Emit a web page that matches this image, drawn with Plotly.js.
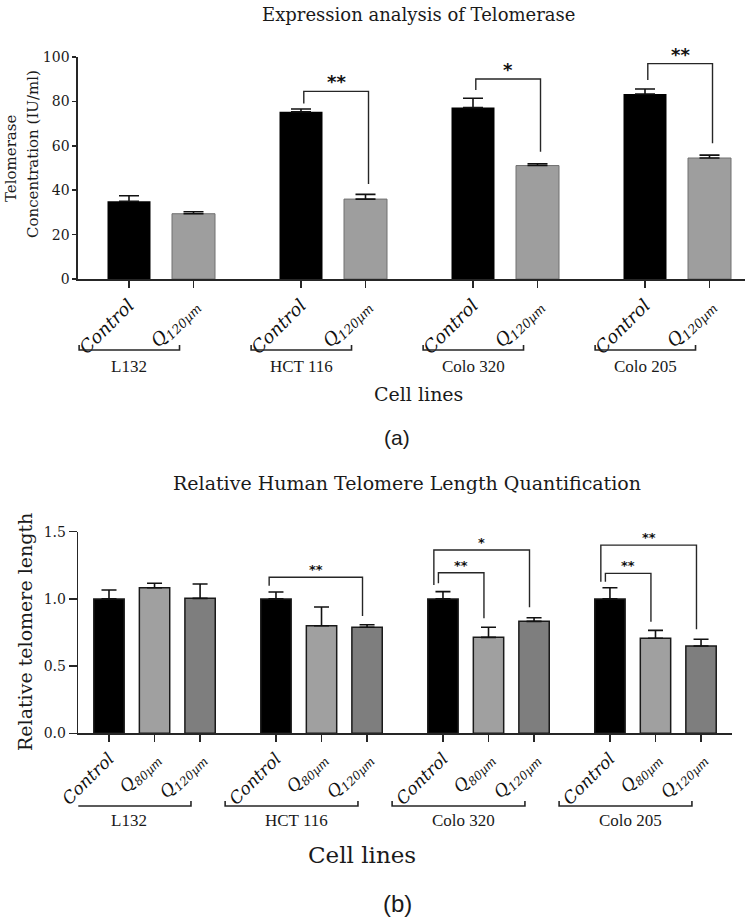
<!DOCTYPE html>
<html>
<head>
<meta charset="utf-8">
<script src="https://cdn.plot.ly/plotly-3.0.1.min.js"></script>
<style>html,body{margin:0;padding:0;background:#fff;}#chart{width:749px;height:920px;}</style>
</head>
<body>
<div id="chart"></div>
<script>
// ---------- data ----------
const groups = ['L132', 'HCT 116', 'Colo 320', 'Colo 205'];

// (a) Telomerase concentration (IU/ml)
const topTickText = ['Control', 'Q<sub>120µm</sub>'];
const topControl = [35.0, 75.3, 77.2, 83.3];
const topControlErr = [2.5, 1.3, 4.2, 2.3];
const topQ120 = [29.4, 36.0, 51.1, 54.5];
const topQ120Err = [0.9, 2.1, 0.8, 1.3];
const topSigGroup = [1, 2, 3];
const topSigLabel = ['**', '*', '**'];
const topSigY = [84.5, 90.1, 97.0];
const topSigLeftEnd = [79.1, 85.1, 89.6];
const topSigRightEnd = [42.8, 57.3, 61.1];

// (b) Relative telomere length
const botTickText = ['Control', 'Q<sub>80µm</sub>', 'Q<sub>120µm</sub>'];
const botControl = [1.0, 1.0, 1.0, 1.0];
const botControlErr = [0.066, 0.051, 0.054, 0.083];
const botQ80 = [1.083, 0.80, 0.714, 0.707];
const botQ80Err = [0.033, 0.14, 0.075, 0.059];
const botQ120 = [1.004, 0.789, 0.833, 0.65];
const botQ120Err = [0.107, 0.019, 0.027, 0.05];
const botSigGroup = [1, 2, 2, 3, 3];
const botSigTo = [2, 1, 2, 1, 2];
const botSigLabel = ['**', '**', '*', '**', '**'];
const botSigY = [1.161, 1.195, 1.364, 1.19, 1.40];
const botSigLeftEnd = [1.098, 1.116, 1.103, 1.128, 1.128];
const botSigRightEnd = [0.873, 0.856, 0.9375, 0.83, 0.774];

// ---------- layout helpers ----------
const W = 749, H = 920;
const px = p => p / W;
const py = p => 1 - p / H;
const topStep = 8, botStep = 11;      // group spacing in axis units
const topGap = 3, botGap = 3;         // bar spacing inside group
const zeros = a => a.map(() => 0);

const topX = (g, i) => g * topStep + i * topGap;
const botX = (g, i) => g * botStep + i * botGap;

const ink = '#262626';
const traces = [];
function bar(xs, ys, errs, color, lineColor, lineW, xa, ya, capW) {
  return {
    type: 'bar', x: xs, y: ys, width: 2, xaxis: xa, yaxis: ya,
    marker: {color: color, line: {color: lineColor, width: lineW}},
    error_y: {type: 'data', array: errs, arrayminus: zeros(errs), symmetric: false,
              color: '#111', thickness: 1.6, width: capW},
    hoverinfo: 'skip', showlegend: false
  };
}
traces.push(bar(groups.map((g, k) => topX(k, 0)), topControl, topControlErr, '#000000', '#000000', 0, 'x', 'y', 10));
traces.push(bar(groups.map((g, k) => topX(k, 1)), topQ120, topQ120Err, '#9e9e9e', '#707070', 1, 'x', 'y', 10));
traces.push(bar(groups.map((g, k) => botX(k, 0)), botControl, botControlErr, '#000000', '#1a1a1a', 1.5, 'x2', 'y2', 7.5));
traces.push(bar(groups.map((g, k) => botX(k, 1)), botQ80, botQ80Err, '#a0a0a0', '#1a1a1a', 1.5, 'x2', 'y2', 7.5));
traces.push(bar(groups.map((g, k) => botX(k, 2)), botQ120, botQ120Err, '#7e7e7e', '#1a1a1a', 1.5, 'x2', 'y2', 7.5));

const topTickVals = [], topTickLabels = [];
groups.forEach((g, k) => topTickText.forEach((t, i) => { topTickVals.push(topX(k, i)); topTickLabels.push(t); }));
const botTickVals = [], botTickLabels = [];
groups.forEach((g, k) => botTickText.forEach((t, i) => { botTickVals.push(botX(k, i)); botTickLabels.push(t); }));

const shapes = [], annotations = [];
const line = {color: ink, width: 1.4};

// significance brackets (a)
topSigGroup.forEach((g, j) => {
  const x1 = topX(g, 0) + 0.13, x2 = topX(g, 1) + 0.14;
  shapes.push({type: 'path', xref: 'x', yref: 'y', line: line,
    path: `M ${x1},${topSigLeftEnd[j]} L ${x1},${topSigY[j]} L ${x2},${topSigY[j]} L ${x2},${topSigRightEnd[j]}`});
  annotations.push({xref: 'x', yref: 'y', x: (x1 + x2) / 2, y: topSigY[j], text: topSigLabel[j],
    showarrow: false, yanchor: 'bottom', yshift: -3, font: {family: 'DejaVu Sans', size: 18, weight: 'bold', color: '#111'}});
});
// significance brackets (b)
botSigGroup.forEach((g, j) => {
  const to = botSigTo[j];
  const outer = (to === 2 && g !== 1);
  const x1 = botX(g, 0) + (outer ? -0.6 : (g === 1 ? -0.45 : -0.3));
  const x2 = botX(g, to) - 0.3;
  shapes.push({type: 'path', xref: 'x2', yref: 'y2', line: line,
    path: `M ${x1},${botSigLeftEnd[j]} L ${x1},${botSigY[j]} L ${x2},${botSigY[j]} L ${x2},${botSigRightEnd[j]}`});
  annotations.push({xref: 'x2', yref: 'y2', x: (x1 + x2) / 2, y: botSigY[j], text: botSigLabel[j],
    showarrow: false, yanchor: 'bottom', yshift: -2, font: {family: 'DejaVu Sans', size: 13, weight: 'bold', color: '#111'}});
});

// group brackets under tick labels
const groupFont = {family: 'Liberation Serif', size: 17, color: '#1a1a1a'};
groups.forEach((g, k) => {
  const a1 = topX(k, 0) - 2.32, a2 = topX(k, 1) - 0.65;
  shapes.push({type: 'path', xref: 'x', yref: 'paper', line: {color: ink, width: 1.6},
    path: `M ${a1},${py(345)} L ${a1},${py(350)} L ${a2},${py(350)} L ${a2},${py(345)}`});
  annotations.push({xref: 'x', yref: 'paper', x: (a1 + a2) / 2, y: py(366), text: g, showarrow: false,
    yanchor: 'middle', font: groupFont});
  const b1 = botX(k, 0) - 3.35, b2 = botX(k, 2) - 0.6;
  shapes.push({type: 'path', xref: 'x2', yref: 'paper', line: {color: ink, width: 1.6},
    path: `M ${b1},${py(801)} L ${b1},${py(806)} L ${b2},${py(806)} L ${b2},${py(801)}`});
  annotations.push({xref: 'x2', yref: 'paper', x: (b1 + b2) / 2 + 0.3, y: py(820), text: g, showarrow: false,
    yanchor: 'middle', font: groupFont});
});

// titles and texts
function txt(x, y, text, font, angle) {
  annotations.push({xref: 'paper', yref: 'paper', x: px(x), y: py(y), text: text, showarrow: false,
    xanchor: 'center', yanchor: 'middle', textangle: angle || 0, font: font});
}
txt(418, 14, 'Expression analysis of Telomerase', {family: 'DejaVu Serif', size: 18, color: '#1a1a1a'});
txt(11, 159, 'Telomerase', {family: 'DejaVu Serif', size: 15, color: '#1a1a1a'}, -90);
txt(33, 154, 'Concentration (IU/ml)', {family: 'DejaVu Serif', size: 15, color: '#1a1a1a'}, -90);
txt(418, 394, 'Cell lines', {family: 'DejaVu Serif', size: 19, color: '#1a1a1a'});
txt(397, 437, '(a)', {family: 'Liberation Sans', size: 21, color: '#1a1a1a'});
txt(407, 483, 'Relative Human Telomere Length Quantification', {family: 'DejaVu Serif', size: 19, color: '#1a1a1a'});
txt(25, 632, 'Relative telomere length', {family: 'DejaVu Serif', size: 19, color: '#1a1a1a'}, -90);
txt(362, 855, 'Cell lines', {family: 'DejaVu Serif', size: 23, color: '#1a1a1a'});
txt(397, 903, '(b)', {family: 'Liberation Sans', size: 24, color: '#1a1a1a'});

const axisBase = {showline: true, linecolor: ink, linewidth: 1.6, ticks: 'outside', tickcolor: ink,
  tickwidth: 1.5, showgrid: false, zeroline: false, fixedrange: true};

const layout = {
  width: W, height: H, margin: {l: 0, r: 0, t: 0, b: 0}, paper_bgcolor: '#fff', plot_bgcolor: '#fff',
  barmode: 'overlay', showlegend: false,
  xaxis: Object.assign({}, axisBase, {domain: [px(78), px(745)], range: [-2.372, 28.651], anchor: 'y',
    tickmode: 'array', tickvals: topTickVals, ticktext: topTickLabels, tickangle: -45, ticklen: 7,
    tickfont: {family: 'DejaVu Serif', size: 18, style: 'italic', color: '#111'}}),
  yaxis: Object.assign({}, axisBase, {domain: [py(279), py(57)], range: [0, 100], anchor: 'x',
    tickmode: 'array', tickvals: [0, 20, 40, 60, 80, 100], ticklen: 4,
    tickfont: {family: 'DejaVu Serif', size: 14, color: '#1a1a1a'}}),
  xaxis2: Object.assign({}, axisBase, {domain: [px(78.3), px(731.7)], range: [-2.022, 41.02], anchor: 'y2',
    tickmode: 'array', tickvals: botTickVals, ticktext: botTickLabels, tickangle: -45, ticklen: 7,
    tickfont: {family: 'DejaVu Serif', size: 17, style: 'italic', color: '#111'}}),
  yaxis2: Object.assign({}, axisBase, {domain: [py(733.3), py(531.7)], range: [0, 1.5], anchor: 'x2',
    tickmode: 'array', tickvals: [0, 0.5, 1.0, 1.5], ticktext: ['0.0', '0.5', '1.0', '1.5'], ticklen: 8,
    tickfont: {family: 'DejaVu Serif', size: 14, color: '#1a1a1a'}}),
  shapes: shapes, annotations: annotations
};

Plotly.newPlot('chart', traces, layout, {displayModeBar: false, staticPlot: true});
</script>
</body>
</html>
